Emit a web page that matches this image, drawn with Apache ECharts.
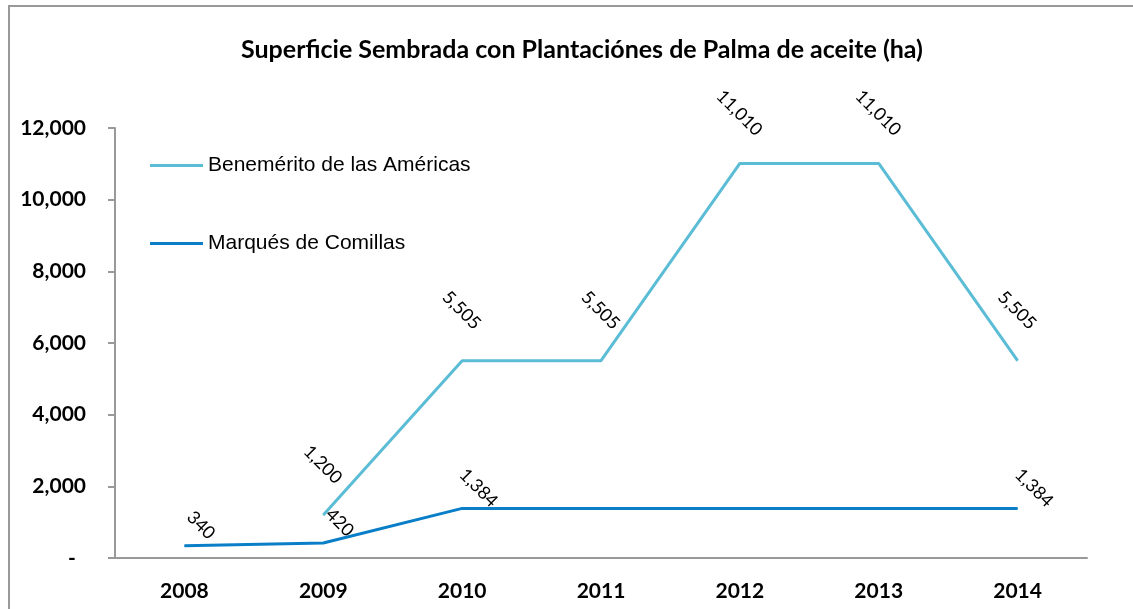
<!DOCTYPE html>
<html>
<head>
<meta charset="utf-8">
<script src="https://cdn.jsdelivr.net/npm/echarts@6/dist/echarts.min.js"></script>
<style>
  html, body { margin: 0; padding: 0; background: #fff; }
  #chart { width: 1133px; height: 609px; }
</style>
</head>
<body>
<div id="chart"></div>
<script>
const years = ['2008', '2009', '2010', '2011', '2012', '2013', '2014'];
const benemerito = [null, 1200, 5505, 5505, 11010, 11010, 5505];
const marques = [340, 420, 1384, 1384, 1384, 1384, 1384];
// the original only labels some of the Marqués points
const marquesLabelled = [true, true, true, false, false, false, true];
const yTicks = [0, 2000, 4000, 6000, 8000, 10000, 12000];

const fmt = v => v.toLocaleString('en-US');
const chart = echarts.init(document.getElementById('chart'));

chart.setOption({
    backgroundColor: '#fff',
    animation: false,
    graphic: [{
        type: 'rect',
        shape: { x: 9, y: 6, width: 2000, height: 2000 },
        style: { fill: 'none', stroke: '#999', lineWidth: 2 },
        silent: true
    }],
    title: {
        text: 'Superficie Sembrada con Plantaciónes de Palma de aceite (ha)',
        left: 236,
        top: 32,
        textStyle: {
            fontFamily: 'Lato',
            fontWeight: 'bold',
            fontSize: 25,
            color: '#000'
        }
    },
    legend: {
        orient: 'vertical',
        left: 150,
        top: 155,
        padding: 0,
        itemGap: 57,
        itemWidth: 53,
        itemHeight: 3,
        icon: 'rect',
        textStyle: {
            fontFamily: 'Liberation Sans',
            fontSize: 21,
            color: '#000'
        },
        data: ['Benemérito de las Américas', 'Marqués de Comillas']
    },
    grid: {
        left: 115,
        right: 46,
        top: 128,
        bottom: 51
    },
    xAxis: {
        type: 'category',
        data: years,
        axisLine: { lineStyle: { color: '#999', width: 2 } },
        axisTick: { length: 7, lineStyle: { color: '#999', width: 2 } },
        axisLabel: {
            margin: 23,
            fontFamily: 'Lato',
            fontWeight: 'bold',
            fontSize: 21,
            color: '#000'
        }
    },
    yAxis: {
        type: 'value',
        min: yTicks[0],
        max: yTicks[yTicks.length - 1],
        interval: yTicks[1] - yTicks[0],
        splitLine: { show: false },
        axisLine: { show: true, lineStyle: { color: '#999', width: 2 } },
        axisTick: { show: true, length: 7, lineStyle: { color: '#999', width: 2 } },
        axisLabel: {
            margin: 29,
            fontFamily: 'Lato',
            fontWeight: 'bold',
            fontSize: 21,
            color: '#000',
            formatter: v => (v === 0 ? '-  ' : fmt(v))
        }
    },
    series: [
        {
            name: 'Benemérito de las Américas',
            type: 'line',
            data: benemerito,
            color: '#5BBCD6',
            symbol: 'circle',
            symbolSize: 1,
            lineStyle: { width: 3, color: '#5BBCD6' },
            label: {
                show: true,
                position: [0, -50],
                align: 'center',
                verticalAlign: 'middle',
                rotate: -45,
                fontFamily: 'Lato',
                fontSize: 18,
                color: '#000',
                formatter: p => fmt(p.value)
            }
        },
        {
            name: 'Marqués de Comillas',
            type: 'line',
            data: marques.map((v, i) => ({ value: v, label: { show: marquesLabelled[i] } })),
            color: '#0A7FC8',
            symbol: 'circle',
            symbolSize: 1,
            lineStyle: { width: 3, color: '#0A7FC8' },
            label: {
                show: true,
                position: [17, -20],
                align: 'center',
                verticalAlign: 'middle',
                rotate: -45,
                fontFamily: 'Lato',
                fontSize: 18,
                color: '#000',
                formatter: p => fmt(p.value)
            }
        }
    ]
});
</script>
</body>
</html>
